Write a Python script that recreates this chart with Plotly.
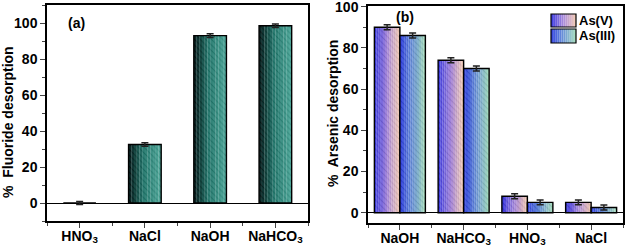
import plotly.graph_objects as go

# ---------------- data ----------------
cats_a = ["HNO<sub>3</sub>", "NaCl", "NaOH", "NaHCO<sub>3</sub>"]
fluoride = [0, 32.5, 93, 98.5]
fluoride_err = [0.8, 1.0, 1.0, 1.0]

cats_b = ["NaOH", "NaHCO<sub>3</sub>", "HNO<sub>3</sub>", "NaCl"]
as5 = [90, 74, 8, 5]
as5_err = [1.2, 1.2, 1.2, 1.2]
as3 = [86, 70, 5, 2.5]
as3_err = [1.2, 1.2, 1.2, 1.2]

FONT = "Liberation Sans, Arial, sans-serif"
N = 12  # gradient slices
W, H = 625, 248


def interp(stops, t):
    for (t0, c0), (t1, c1) in zip(stops[:-1], stops[1:]):
        if t <= t1:
            f = (t - t0) / (t1 - t0) if t1 > t0 else 0
            return tuple(round(a + (b - a) * f) for a, b in zip(c0, c1))
    return stops[-1][1]


def rgb(c):
    return "rgb(%d,%d,%d)" % c


grad_a = [(0, (8, 30, 30)), (0.45, (45, 125, 115)), (1, (85, 172, 158))]
grad_v = [(0, (60, 60, 225)), (0.5, (170, 140, 220)), (1, (245, 205, 180))]
grad_iii = [(0, (55, 70, 225)), (0.5, (110, 150, 215)), (1, (170, 225, 190))]

fig = go.Figure()


def gradient_bars(x, y, err, start, width, stops, xa, ya):
    for k in range(N):
        t = (k + 0.5) / N
        c = interp(stops, t)
        fg = tuple(max(0, v - 40) for v in c)
        fig.add_trace(go.Bar(
            x=x, y=y, width=width / N * 1.05, offset=start + k * width / N,
            marker=dict(color=rgb(c), line=dict(width=0),
                        pattern=dict(shape="\\", fgcolor=rgb(fg), bgcolor=rgb(c),
                                     size=4, solidity=0.25, fgopacity=0.6)),
            xaxis=xa, yaxis=ya, showlegend=False, hoverinfo="skip"))
    fig.add_trace(go.Bar(
        x=x, y=y, width=width, offset=start,
        marker=dict(color="rgba(0,0,0,0)", line=dict(color="black", width=1.4)),
        error_y=dict(type="data", array=err, visible=True, color="#222",
                     thickness=1.5, width=3.5),
        xaxis=xa, yaxis=ya, showlegend=False))


xa_idx = list(range(len(cats_a)))
xb_idx = list(range(len(cats_b)))

gradient_bars(xa_idx, fluoride, fluoride_err, -0.25, 0.5, grad_a, "x", "y")
gradient_bars(xb_idx, as5, as5_err, -0.4, 0.4, grad_v, "x2", "y2")
gradient_bars(xb_idx, as3, as3_err, 0.0, 0.4, grad_iii, "x2", "y2")

tickfont = dict(family=FONT, size=14, color="black", weight="bold")
common_x = dict(range=[-0.5, 3.5], ticks="outside", ticklen=5, tickwidth=1.3,
                minor=dict(ticks="outside", tick0=0.5, dtick=1, ticklen=3, tickwidth=1.3),
                showline=True, mirror=True, linecolor="black", linewidth=1.5,
                showgrid=False, zeroline=False, tickfont=tickfont, automargin=False,
                ticklabelstandoff=-4)
common_y = dict(ticks="outside", ticklen=5, tickwidth=1.3,
                showline=True, mirror=True, linecolor="black", linewidth=1.5,
                showgrid=False, zeroline=True, zerolinecolor="black", zerolinewidth=1.3,
                tickfont=tickfont, automargin=False, ticklabeloverflow="allow")

fig.update_layout(
    width=W, height=H, margin=dict(l=0, r=0, t=0, b=0, pad=0),
    paper_bgcolor="white", plot_bgcolor="white", barmode="overlay",
    showlegend=False, font=dict(family=FONT),
    xaxis=dict(domain=[47 / W, 308 / W], anchor="y", tickvals=xa_idx,
               ticktext=["<b>%s</b>" % c for c in cats_a], **common_x),
    yaxis=dict(domain=[1 - 221 / H, 1 - 5 / H], anchor="x", range=[-10, 110],
               dtick=20, minor=dict(ticks="outside", dtick=10, ticklen=3, tickwidth=1.3),
               **common_y),
    xaxis2=dict(domain=[368 / W, 623 / W], anchor="y2", tickvals=xb_idx,
                ticktext=["<b>%s</b>" % c for c in cats_b], **common_x),
    yaxis2=dict(domain=[1 - 223 / H, 1 - 6 / H], anchor="x2", range=[-5, 100.3],
                dtick=20, minor=dict(ticks="outside", dtick=10, ticklen=3, tickwidth=1.3),
                **common_y),
)

# axis titles
for txt, xpx, ypx in [("%  Fluoride desorption", 8, 122), ("%  Arsenic desorption", 333, 114)]:
    fig.add_annotation(text="<b>%s</b>" % txt, xref="paper", yref="paper",
                       x=xpx / W, y=1 - ypx / H, textangle=-90, showarrow=False,
                       xanchor="center", yanchor="middle",
                       font=dict(family=FONT, size=14, color="black"))

fig.add_annotation(text="<b>(a)</b>", xref="paper", yref="paper",
                   x=76 / W, y=1 - 23 / H, showarrow=False, xanchor="center", yanchor="middle",
                   font=dict(family=FONT, size=14, color="black"))
fig.add_annotation(text="<b>(b)</b>", xref="paper", yref="paper",
                   x=405 / W, y=1 - 17 / H, showarrow=False, xanchor="center", yanchor="middle",
                   font=dict(family=FONT, size=14, color="black"))

# legend (drawn in paper coordinates)
legend_items = [("As(V)", grad_v, 14, 27), ("As(III)", grad_iii, 29, 43)]
x0, x1 = 551, 576
for label, stops, ytop, ybot in legend_items:
    for k in range(N):
        t = (k + 0.5) / N
        c = interp(stops, t)
        fig.add_shape(type="rect", xref="paper", yref="paper",
                      x0=(x0 + (x1 - x0) * k / N) / W, x1=(x0 + (x1 - x0) * (k + 1) / N) / W,
                      y0=1 - ybot / H, y1=1 - ytop / H,
                      fillcolor=rgb(c), line=dict(width=0))
    fig.add_shape(type="rect", xref="paper", yref="paper",
                  x0=x0 / W, x1=x1 / W, y0=1 - ybot / H, y1=1 - ytop / H,
                  line=dict(color="black", width=1.2))
    fig.add_annotation(text="<b>%s</b>" % label, xref="paper", yref="paper",
                       x=577 / W, y=1 - (ytop + ybot) / 2 / H, xanchor="left",
                       yanchor="middle", showarrow=False,
                       font=dict(family=FONT, size=13, color="black"))

fig.write_html("out.html", config={"displayModeBar": False},
               post_script="document.body.style.margin='0';document.body.style.padding='0';")
